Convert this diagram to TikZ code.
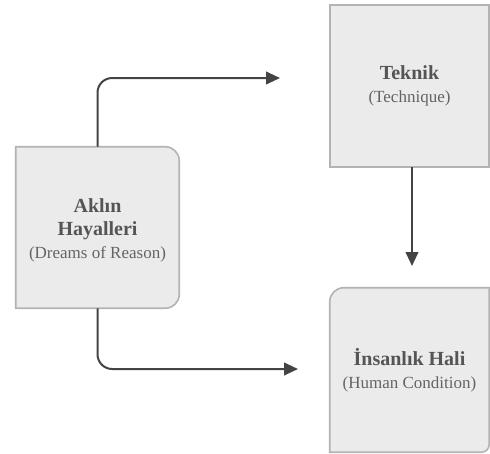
\documentclass[tikz,border=0pt]{standalone}
\usepackage{fontspec}
\setmainfont{Liberation Serif}
\usetikzlibrary{arrows.meta,backgrounds}
\definecolor{boxfill}{HTML}{EBEBEB}
\definecolor{boxedge}{HTML}{B3B3B3}
\definecolor{linecol}{HTML}{444444}
\definecolor{boldtxt}{HTML}{555555}
\definecolor{regtxt}{HTML}{646464}
\newcommand{\bt}[1]{{\fontsize{15}{17.25}\selectfont\bfseries\color{boldtxt}#1}}
\newcommand{\rt}[1]{{\fontsize{12.75}{17.25}\selectfont\color{regtxt}#1}}
\begin{document}
\begin{tikzpicture}[x=0.75pt,y=0.75pt,
  boxnode/.style={inner sep=0pt,align=center,font=\fontsize{12.75}{17.25}\selectfont},
  txtnode/.style={inner sep=0pt,align=center,font=\fontsize{12.75}{17.25}\selectfont},
  boxline/.style={draw=boxedge,fill=boxfill,line width=1.2pt},
  conn/.style={draw=linecol,line width=1.5pt,-{Triangle[length=10.5pt,width=9.5pt]}}]
\useasboundingbox (0,0) rectangle (490,-454);

\node[boxnode,minimum width=122.25pt,minimum height=120.75pt] (A) at (97.5,-227.5) {};
\node[txtnode] (At) at ([yshift=-2.25pt]A.center)
  {\bt{Aklın}\\\bt{Hayalleri}\\\rt{(Dreams of Reason)}};
\node[boxnode,minimum width=119.25pt,minimum height=121.5pt] (T) at (409.5,-86)
  {\bt{Teknik}\\\rt{(Technique)}};
\node[boxnode,minimum width=119.25pt,minimum height=123pt] (H) at (409.5,-370)
  {\bt{İnsanlık Hali}\\\rt{(Human Condition)}};

\begin{scope}[on background layer]
  \draw[boxline] (A.north west) -- ([xshift=-10.5pt]A.north east)
    arc[start angle=90,end angle=0,radius=10.5pt]
    -- ([yshift=10.5pt]A.south east)
    arc[start angle=0,end angle=-90,radius=10.5pt]
    -- (A.south west) -- cycle;
  \draw[boxline] (T.north west) rectangle (T.south east);
  \draw[boxline] ([yshift=-10.5pt]H.north west)
    arc[start angle=180,end angle=90,radius=10.5pt]
    -- (H.north east) -- ([yshift=6pt]H.south east)
    arc[start angle=0,end angle=-90,radius=6pt]
    -- (H.south west) -- cycle;
\end{scope}

\coordinate (e1) at (280,-78);
\coordinate (e2) at (298,-369);
\coordinate (e3) at (412,-266);
\draw[conn,rounded corners=11pt] (A.north) |- (e1);
\draw[conn,rounded corners=11pt] (A.south) |- (e2);
\draw[conn] (T.south -| e3) -- (e3);
\end{tikzpicture}
\end{document}
